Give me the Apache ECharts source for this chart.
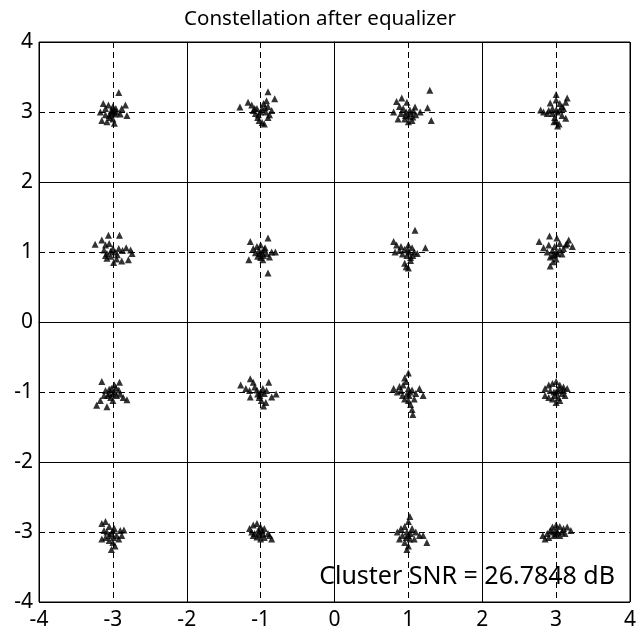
<!DOCTYPE html>
<html>
<head>
<meta charset="utf-8">
<script src="https://cdn.jsdelivr.net/npm/echarts@6/dist/echarts.min.js"></script>
<style>
    html, body { margin: 0; padding: 0; background: #fff; }
    #chart { width: 640px; height: 638px; }
</style>
</head>
<body>
<div id="chart"></div>
<script>
// axis ticks
var axisMin = -4;
var axisMax = 4;

// received symbols, one list per constellation point (I, Q)
var clusterA = [[-3.13,3.12],[-3.1,3.05],[-3.17,3.0],[-3.15,2.88],[-3.08,2.86],[-3.05,2.95],[-3.02,3.02],[-3.0,3.08],[-2.97,2.97],[-2.95,3.0],[-2.9,2.97],[-2.83,3.1],[-2.81,2.95],[-2.92,3.28],[-3.04,2.92],[-3.0,2.9],[-2.98,2.84],[-3.06,3.1],[-2.96,3.05],[-3.1,2.96],[-3.02,2.98],[-2.88,3.05],[-3.01,3.0],[-2.99,3.03]];
var clusterB = [[-1.28,3.07],[-1.17,3.14],[-1.12,3.1],[-1.1,3.02],[-1.07,2.98],[-1.04,2.92],[-1.02,2.88],[-0.98,2.85],[-0.95,2.83],[-0.9,2.92],[-0.93,3.0],[-0.9,3.08],[-0.96,3.12],[-0.92,3.16],[-0.85,3.02],[-0.81,3.19],[-0.9,3.29],[-1.05,3.05],[-1.0,3.0],[-0.88,2.96],[-1.08,3.05],[-0.98,3.05],[-0.94,3.06],[-1.03,2.96]];
var clusterC = [[1.29,3.31],[0.84,3.15],[0.91,3.2],[0.98,3.14],[0.8,3.0],[0.86,2.9],[1.09,3.07],[1.16,3.0],[1.26,3.06],[1.31,2.88],[1.0,2.86],[0.93,3.05],[0.96,2.95],[1.03,2.98],[1.06,2.93],[1.02,3.03],[0.97,3.0],[1.1,2.96],[0.9,2.98],[0.95,2.9],[1.05,2.88],[0.88,3.08],[1.0,2.94],[1.07,3.01]];
var clusterD = [[3.0,3.25],[3.0,3.17],[3.05,3.12],[3.13,3.14],[3.15,3.2],[2.92,3.13],[2.95,3.05],[2.79,3.03],[2.83,3.0],[2.88,2.98],[2.95,2.98],[3.02,3.0],[3.05,3.03],[3.08,2.95],[3.13,2.91],[3.1,3.05],[2.98,2.92],[3.0,2.87],[3.04,2.83],[2.97,2.86],[3.02,2.8],[3.08,3.08],[3.0,3.03],[2.9,3.02]];
var clusterE = [[-3.06,1.24],[-2.91,1.24],[-3.24,1.11],[-3.15,1.17],[-3.1,1.1],[-3.05,1.12],[-3.12,1.03],[-3.08,0.98],[-3.0,1.05],[-2.97,1.0],[-2.92,1.05],[-2.87,1.02],[-2.82,1.06],[-2.76,1.03],[-2.74,0.98],[-2.79,0.89],[-2.88,0.87],[-2.95,0.9],[-3.08,0.91],[-3.03,0.94],[-2.99,0.85],[-3.1,0.95],[-3.03,1.01],[-2.94,0.96]];
var clusterF = [[-1.14,1.15],[-0.9,1.2],[-1.16,0.89],[-0.9,0.7],[-1.1,1.05],[-1.05,1.08],[-1.02,1.02],[-0.98,1.0],[-0.95,1.04],[-0.92,0.98],[-0.85,1.0],[-0.8,1.0],[-1.04,0.94],[-1.0,0.92],[-0.96,0.95],[-0.88,0.93],[-1.07,0.99],[-0.94,1.06],[-1.0,1.1],[-0.97,0.89],[-1.01,0.98]];
var clusterG = [[1.09,1.31],[0.8,1.15],[0.84,1.1],[0.9,1.08],[0.95,1.04],[1.0,1.1],[1.05,1.06],[1.08,1.0],[1.23,1.06],[0.82,1.0],[0.92,0.97],[0.98,0.95],[1.03,0.92],[1.06,0.95],[0.95,0.84],[0.97,0.79],[1.0,0.77],[1.12,0.98],[0.88,1.02],[1.01,1.0],[0.99,1.03],[1.03,0.88]];
var clusterH = [[2.77,1.15],[2.91,1.23],[3.01,1.2],[3.17,1.17],[3.22,1.08],[2.92,0.8],[2.83,1.06],[2.88,1.0],[2.92,0.93],[2.95,1.02],[2.98,0.96],[3.02,0.98],[3.05,1.03],[3.08,0.97],[3.1,1.05],[3.13,1.1],[3.0,0.9],[2.96,0.86],[3.05,1.12],[2.98,1.08],[3.15,1.12],[2.9,1.1],[3.0,1.0],[2.95,0.95]];
var clusterI = [[-3.15,-0.85],[-2.91,-0.86],[-2.98,-0.9],[-3.17,-1.12],[-3.22,-1.19],[-3.08,-1.21],[-2.81,-1.11],[-3.1,-0.98],[-3.05,-1.02],[-3.02,-0.95],[-2.98,-1.0],[-2.95,-1.05],[-2.9,-1.03],[-2.86,-1.08],[-3.03,-1.08],[-3.0,-1.12],[-3.07,-1.05],[-2.96,-0.94],[-3.12,-1.05],[-2.92,-0.97],[-3.0,-1.03],[-3.05,-0.96]];
var clusterJ = [[-1.14,-0.81],[-1.1,-0.86],[-0.89,-0.86],[-1.27,-0.9],[-1.2,-0.95],[-1.15,-0.98],[-1.08,-0.93],[-1.05,-0.97],[-1.0,-1.0],[-0.97,-0.95],[-0.95,-1.02],[-0.92,-0.98],[-0.79,-1.03],[-0.85,-1.07],[-0.93,-1.15],[-0.96,-1.2],[-1.14,-1.07],[-1.02,-1.08],[-1.04,-1.03],[-0.99,-1.12],[-1.01,-1.05]];
var clusterK = [[0.8,-0.95],[0.85,-1.0],[0.88,-0.92],[0.93,-0.9],[0.95,-0.8],[0.97,-0.85],[1.0,-0.95],[1.02,-1.0],[1.05,-0.97],[1.1,-1.02],[1.15,-0.95],[1.2,-1.05],[0.92,-1.05],[0.95,-1.1],[1.0,-1.12],[1.03,-1.18],[1.05,-1.25],[1.06,-1.32],[0.98,-1.03],[1.08,-1.1],[0.9,-0.98],[1.0,-0.73],[1.01,-1.05]];
var clusterL = [[2.85,-0.95],[2.9,-0.9],[2.95,-0.88],[3.0,-0.85],[3.05,-0.9],[3.1,-0.93],[3.15,-0.95],[2.92,-0.98],[2.97,-1.0],[3.02,-0.98],[3.08,-1.02],[3.12,-1.05],[2.85,-1.05],[2.9,-1.08],[2.95,-1.1],[3.0,-1.15],[3.03,-1.08],[2.98,-1.05],[3.1,-0.98],[3.05,-1.12],[3.0,-1.0],[3.05,-0.95]];
var clusterM = [[-3.15,-2.88],[-3.1,-2.85],[-3.05,-2.92],[-2.98,-2.95],[-2.9,-2.98],[-2.85,-2.97],[-3.12,-2.98],[-3.08,-3.0],[-3.02,-3.02],[-2.95,-3.05],[-2.88,-3.05],[-3.1,-3.08],[-3.05,-3.12],[-3.0,-3.15],[-2.97,-3.2],[-3.02,-3.25],[-3.15,-3.1],[-2.92,-3.1],[-3.0,-2.98],[-3.05,-3.05],[-2.99,-3.08]];
var clusterN = [[-1.15,-2.95],[-1.1,-2.9],[-1.05,-2.88],[-1.0,-2.93],[-0.95,-2.95],[-1.12,-3.0],[-1.08,-3.02],[-1.02,-3.0],[-0.97,-3.03],[-0.9,-3.02],[-1.05,-3.07],[-1.0,-3.1],[-0.95,-3.08],[-0.88,-3.05],[-1.1,-3.05],[-0.85,-3.1],[-1.03,-2.97],[-0.98,-2.98],[-1.01,-3.04]];
var clusterO = [[0.85,-3.0],[0.9,-2.95],[0.95,-2.92],[1.0,-2.85],[1.02,-2.78],[1.05,-2.95],[1.1,-3.0],[1.15,-3.05],[1.25,-3.15],[0.92,-3.05],[0.97,-3.08],[1.02,-3.1],[1.0,-3.2],[0.98,-3.25],[0.95,-3.15],[1.08,-3.1],[1.03,-3.02],[0.98,-3.0],[0.88,-3.1],[1.2,-3.05],[1.0,-3.05]];
var clusterP = [[2.82,-3.05],[2.88,-3.02],[2.92,-2.98],[2.95,-2.93],[3.0,-2.9],[3.05,-2.92],[3.1,-2.95],[3.15,-2.93],[3.2,-2.98],[2.9,-3.08],[2.97,-3.05],[3.02,-3.0],[3.08,-3.0],[3.12,-3.02],[2.85,-3.1],[3.0,-2.97],[3.05,-3.05],[2.95,-3.0],[3.0,-3.03]];

var snrText = 'Cluster SNR = 26.7848 dB';

var points = [].concat(clusterA, clusterB, clusterC, clusterD, clusterE, clusterF, clusterG, clusterH,
    clusterI, clusterJ, clusterK, clusterL, clusterM, clusterN, clusterO, clusterP);

var myChart = echarts.init(document.getElementById('chart'));
var fontFamily = '"Noto Sans", sans-serif';

var option = {
    animation: false,
    backgroundColor: '#fff',
    title: [{
        text: 'Constellation after equalizer',
        left: 'center',
        top: 4,
        textStyle: { fontFamily: fontFamily, fontSize: 20.5, fontWeight: 'normal', color: '#000' }
    }, {
        text: snrText,
        right: 20,
        top: 559,
        textStyle: { fontFamily: fontFamily, fontSize: 25, fontWeight: 'normal', color: '#000' }
    }],
    grid: {
        left: 39,
        right: 10,
        top: 42,
        bottom: 36,
        show: true,
        borderColor: '#000',
        borderWidth: 1
    },
    xAxis: [{
        type: 'value',
        min: axisMin,
        max: axisMax,
        interval: 1,
        axisLine: { show: true, lineStyle: { color: '#000' } },
        axisTick: { show: false },
        axisLabel: { color: '#000', fontSize: 21, fontFamily: fontFamily, margin: 8 },
        splitLine: { show: true, lineStyle: { color: '#000', type: [6, 4], width: 1 } }
    }, {
        type: 'value',
        min: axisMin,
        max: axisMax,
        interval: 2,
        position: 'top',
        axisLine: { show: false },
        axisTick: { show: false },
        axisLabel: { show: false },
        splitLine: { show: true, lineStyle: { color: '#000', type: 'solid', width: 1 } }
    }],
    yAxis: [{
        type: 'value',
        min: axisMin,
        max: axisMax,
        interval: 1,
        axisLine: { show: true, lineStyle: { color: '#000' } },
        axisTick: { show: false },
        axisLabel: { color: '#000', fontSize: 21, fontFamily: fontFamily, margin: 6 },
        splitLine: { show: true, lineStyle: { color: '#000', type: [6, 4], width: 1 } }
    }, {
        type: 'value',
        min: axisMin,
        max: axisMax,
        interval: 2,
        position: 'right',
        axisLine: { show: false },
        axisTick: { show: false },
        axisLabel: { show: false },
        splitLine: { show: true, lineStyle: { color: '#000', type: 'solid', width: 1 } }
    }],
    series: [{
        type: 'scatter',
        xAxisIndex: 0,
        yAxisIndex: 0,
        data: points,
        symbol: 'triangle',
        symbolSize: 7,
        itemStyle: { color: '#000' },
        z: 5
    }]
};

myChart.setOption(option);
</script>
</body>
</html>
